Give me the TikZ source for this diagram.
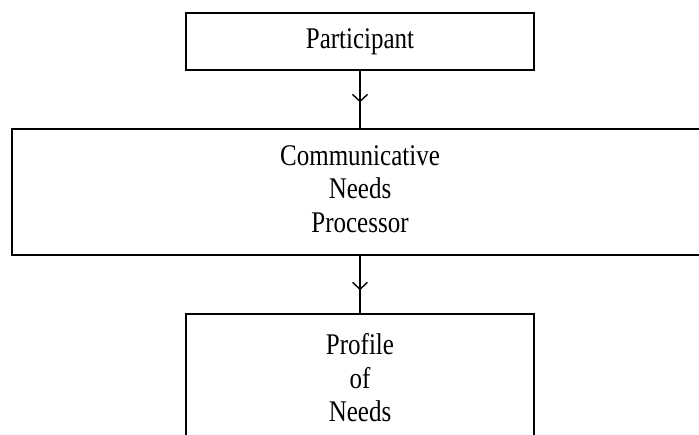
\documentclass[tikz,border=0pt]{standalone}
\usepackage{fontspec}
\setmainfont{Liberation Serif}
\usetikzlibrary{arrows.meta,decorations.markings}
\newcommand\stxt[1]{\scalebox{1}[1.2]{#1}}
\begin{document}
\begin{tikzpicture}[x=1pt,y=1pt,
  box/.style={draw=black,line width=1.7pt,inner sep=0pt,fill=white,
    font=\fontsize{25}{28}\selectfont,align=center},
  conn/.style={line width=1.5pt,postaction={decorate},
    decoration={markings,mark=at position #1 with {\arrow[line width=1.4pt]{Straight Barb[length=7pt,width=15pt]}}}}
]
\useasboundingbox (0,0) rectangle (699,-435);
\clip (0,0) rectangle (699,-435);
\node[box,minimum width=348pt,minimum height=57pt] (top) at (360,-41.5)
  {\stxt{Participant}};
\node[box,minimum width=696pt,minimum height=126pt] (mid) at (360,-192)
  {\raisebox{-3pt}{\stxt{\begin{tabular}{@{}c@{}}Communicative\\Needs\\Processor\end{tabular}}}};
\node[box,minimum width=348pt,minimum height=135pt] (bot) at (360,-381.5)
  {\stxt{\begin{tabular}{@{}c@{}}Profile\\of\\Needs\end{tabular}}};
\draw[conn=0.55] (top.south) -- (mid.north);
\draw[conn=0.6] (mid.south) -- (bot.north);
\end{tikzpicture}
\end{document}
